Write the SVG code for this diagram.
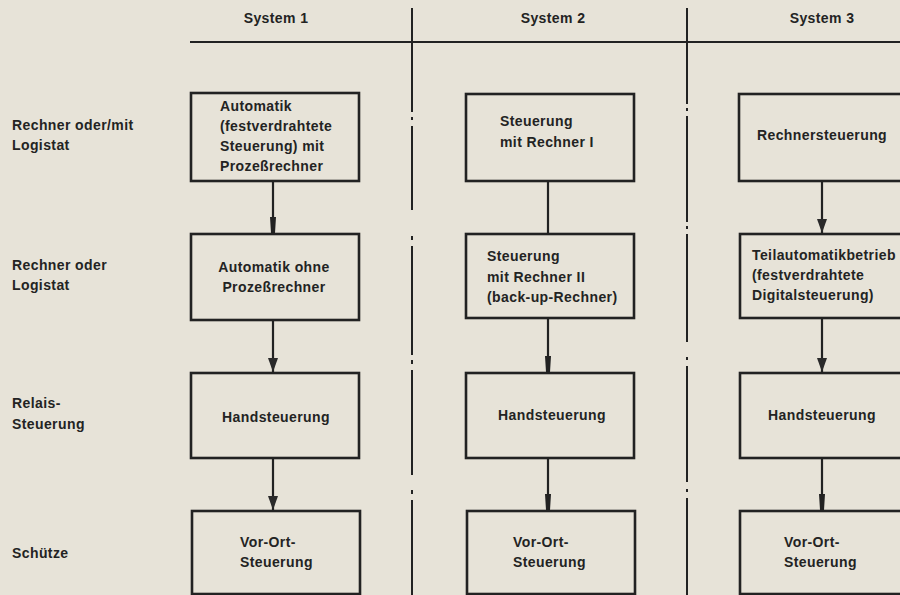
<svg xmlns="http://www.w3.org/2000/svg" width="900" height="595" viewBox="0 0 900 595">
  <style>
    .bg { fill: #e7e3d8; }
    .t { font-family: "Liberation Sans", Arial, sans-serif; font-size: 14px; font-weight: bold; letter-spacing: 0.4px; fill: #232323; }
    .c { text-anchor: middle; }
    .box { fill: none; stroke: #222; stroke-width: 2.6; }
    .rule { stroke: #222; stroke-width: 2; fill: none; }
    .conn { stroke: #222; stroke-width: 2.2; fill: none; }
  </style>
  <defs>
    <!-- markers are drawn pointing along +x; orient="auto" turns them down the line -->
    <marker id="arrow" viewBox="0 0 14 10" refX="14" refY="5" markerWidth="14" markerHeight="10" markerUnits="userSpaceOnUse" orient="auto">
      <path d="M0,0 L14,5 L0,10 Z" fill="#2a2a2a"/>
    </marker>
    <marker id="tip" viewBox="0 0 16 6" refX="16" refY="3" markerWidth="16" markerHeight="6" markerUnits="userSpaceOnUse" orient="auto">
      <path d="M0,0 L16,1 L16,5 L0,6 Z" fill="#222"/>
    </marker>
  </defs>

  <rect class="bg" x="0" y="0" width="900" height="595"/>

  <!-- column headings and rules -->
  <g id="header">
    <text class="t c" x="276" y="23">System 1</text>
    <text class="t c" x="553" y="23">System 2</text>
    <text class="t c" x="822" y="23">System 3</text>
    <line class="rule" x1="190" y1="42" x2="900" y2="42"/>
    <path class="rule" d="M412,8 V112 M412,117 V120 M412,126 V210 M412,236 V240 M412,246 V355 M412,360 V364 M412,370 V475 M412,490 V494 M412,500 V595"/>
    <path class="rule" d="M687,8 V104 M687,108 V111 M687,116 V222 M687,226 V229 M687,234 V342 M687,357 V360 M687,366 V482 M687,489 V492 M687,498 V595"/>
  </g>

  <!-- row labels -->
  <g id="row-labels">
    <text class="t" x="12" y="130">Rechner oder/mit</text>
    <text class="t" x="12" y="150">Logistat</text>
    <text class="t" x="12" y="270">Rechner oder</text>
    <text class="t" x="12" y="290">Logistat</text>
    <text class="t" x="12" y="408">Relais-</text>
    <text class="t" x="12" y="429">Steuerung</text>
    <text class="t" x="12" y="558">Schütze</text>
  </g>

  <!-- connectors -->
  <g id="connectors">
    <line class="conn" x1="273" y1="181" x2="273" y2="233" marker-end="url(#tip)"/>
    <line class="conn" x1="273" y1="320" x2="273" y2="372" marker-end="url(#arrow)"/>
    <line class="conn" x1="273" y1="458" x2="273" y2="510" marker-end="url(#arrow)"/>

    <line class="conn" x1="548" y1="181" x2="548" y2="233"/>
    <line class="conn" x1="548" y1="318" x2="548" y2="372" marker-end="url(#tip)"/>
    <line class="conn" x1="548" y1="458" x2="548" y2="510" marker-end="url(#tip)"/>

    <line class="conn" x1="822" y1="181" x2="822" y2="233" marker-end="url(#arrow)"/>
    <line class="conn" x1="822" y1="318" x2="822" y2="372" marker-end="url(#arrow)"/>
    <line class="conn" x1="822" y1="458" x2="822" y2="510" marker-end="url(#tip)"/>
  </g>

  <!-- System 1 -->
  <g id="s1-automatik-prozessrechner">
    <rect class="box" x="191" y="93" width="168" height="88"/>
    <text class="t" x="220" y="111">Automatik</text>
    <text class="t" x="220" y="131">(festverdrahtete</text>
    <text class="t" x="220" y="151">Steuerung) mit</text>
    <text class="t" x="220" y="171">Prozeßrechner</text>
  </g>
  <g id="s1-automatik-ohne">
    <rect class="box" x="191" y="234" width="168" height="86"/>
    <text class="t c" x="274" y="272">Automatik ohne</text>
    <text class="t c" x="274" y="292">Prozeßrechner</text>
  </g>
  <g id="s1-handsteuerung">
    <rect class="box" x="191" y="373" width="168" height="85"/>
    <text class="t c" x="276" y="422">Handsteuerung</text>
  </g>
  <g id="s1-vor-ort">
    <rect class="box" x="192" y="511" width="168" height="83"/>
    <text class="t" x="240" y="547">Vor-Ort-</text>
    <text class="t" x="240" y="567">Steuerung</text>
  </g>

  <!-- System 2 -->
  <g id="s2-rechner-1">
    <rect class="box" x="466" y="94" width="168" height="87"/>
    <text class="t" x="500" y="126">Steuerung</text>
    <text class="t" x="500" y="147">mit Rechner I</text>
  </g>
  <g id="s2-rechner-2">
    <rect class="box" x="466" y="234" width="168" height="84"/>
    <text class="t" x="487" y="261">Steuerung</text>
    <text class="t" x="487" y="282">mit Rechner II</text>
    <text class="t" x="487" y="302">(back-up-Rechner)</text>
  </g>
  <g id="s2-handsteuerung">
    <rect class="box" x="466" y="373" width="168" height="85"/>
    <text class="t c" x="552" y="420">Handsteuerung</text>
  </g>
  <g id="s2-vor-ort">
    <rect class="box" x="467" y="511" width="168" height="83"/>
    <text class="t" x="513" y="547">Vor-Ort-</text>
    <text class="t" x="513" y="567">Steuerung</text>
  </g>

  <!-- System 3 -->
  <g id="s3-rechnersteuerung">
    <rect class="box" x="739" y="94" width="170" height="87"/>
    <text class="t c" x="822" y="140">Rechnersteuerung</text>
  </g>
  <g id="s3-teilautomatik">
    <rect class="box" x="740" y="234" width="170" height="84"/>
    <text class="t" x="752" y="260">Teilautomatikbetrieb</text>
    <text class="t" x="752" y="280">(festverdrahtete</text>
    <text class="t" x="752" y="300">Digitalsteuerung)</text>
  </g>
  <g id="s3-handsteuerung">
    <rect class="box" x="740" y="373" width="170" height="85"/>
    <text class="t c" x="822" y="420">Handsteuerung</text>
  </g>
  <g id="s3-vor-ort">
    <rect class="box" x="740" y="511" width="170" height="83"/>
    <text class="t" x="784" y="547">Vor-Ort-</text>
    <text class="t" x="784" y="567">Steuerung</text>
  </g>
</svg>
